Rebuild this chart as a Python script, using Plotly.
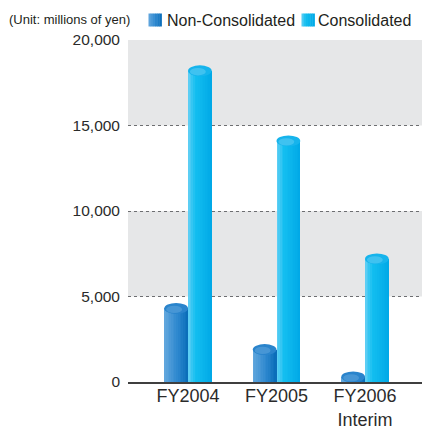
import plotly.graph_objects as go

# ---- data ----
categories = ["FY2004", "FY2005", "FY2006<br>Interim"]
non_consolidated = [4300, 1900, 300]
consolidated = [18200, 14100, 7200]
y_ticks = [0, 5000, 10000, 15000, 20000]
series_names = ["Non-Consolidated", "Consolidated"]

# ---- styling ----
FONT = "Liberation Sans, Arial, sans-serif"
W, H = 422, 427
L, R, T, B = 128, 0, 40, 45
PW, PH = W - L - R, H - T - B
BAR_W = 0.268
N_SLICES = 14
ELL_H = 640  # ellipse height in data units (~11 px)

non_stops = [(0.0, (0x64, 0xa8, 0xde)), (0.55, (0x2e, 0x88, 0xcf)), (1.0, (0x08, 0x6c, 0xb8))]
con_stops = [(0.0, (0x66, 0xd0, 0xf4)), (0.3, (0x14, 0xbf, 0xf0)), (1.0, (0x00, 0xa8, 0xe6))]


def interp(stops, t):
    for (t0, c0), (t1, c1) in zip(stops[:-1], stops[1:]):
        if t0 <= t <= t1:
            f = (t - t0) / (t1 - t0) if t1 > t0 else 0
            c = [round(a + (b - a) * f) for a, b in zip(c0, c1)]
            return "rgb(%d,%d,%d)" % tuple(c)
    c = stops[-1][1]
    return "rgb(%d,%d,%d)" % tuple(c)


xs = list(range(len(categories)))
fig = go.Figure()

shapes = []
# background bands
for lo, hi in [(15000, 20000), (5000, 10000)]:
    shapes.append(dict(type="rect", xref="paper", yref="y", x0=0, x1=1, y0=lo, y1=hi,
                       fillcolor="#e6e7e8", line=dict(width=0), layer="below"))

series = [
    (non_consolidated, -BAR_W, non_stops, "#2a84cc", "#5ea6dd"),
    (consolidated, 0.0, con_stops, "#16b4ec", "#62cdf4"),
]
sw = BAR_W / N_SLICES
for vals, base_off, stops, top_col, top_hi in series:
    for i in range(N_SLICES):
        t = (i + 0.5) / N_SLICES
        wdt = sw * 1.6 if i < N_SLICES - 1 else sw
        fig.add_trace(go.Bar(
            x=xs, y=vals, offset=base_off + i * sw, width=wdt,
            marker=dict(color=interp(stops, t), line=dict(width=0)),
            showlegend=False, hoverinfo="skip"))
    for x, v in zip(xs, vals):
        shapes.append(dict(type="circle", xref="x", yref="y",
                           x0=x + base_off, x1=x + base_off + BAR_W,
                           y0=v - ELL_H / 2, y1=v + ELL_H / 2,
                           fillcolor=top_col, line=dict(width=0), layer="above"))
        shapes.append(dict(type="circle", xref="x", yref="y",
                           x0=x + base_off + BAR_W * 0.08, x1=x + base_off + BAR_W * 0.75,
                           y0=v - ELL_H * 0.42, y1=v + ELL_H * 0.25,
                           fillcolor=top_hi, opacity=0.55, line=dict(width=0), layer="above"))


def px_x(p):
    return (p - L) / PW


def px_y(p):
    return (H - B - p) / PH


# manual legend
legend_items = [
    (148.5, 165, series_names[0], non_stops),
    (301.5, 316, series_names[1], con_stops),
]
annotations = []
for sx, tx, name, stops in legend_items:
    n = 6
    for i in range(n):
        shapes.append(dict(type="rect", xref="paper", yref="paper",
                           x0=px_x(sx + 13 * i / n), x1=px_x(sx + 13 * (i + 1) / n + 0.4),
                           y0=px_y(26.5), y1=px_y(13.5),
                           fillcolor=interp(stops, (i + 0.5) / n), line=dict(width=0)))
    annotations.append(dict(xref="paper", yref="paper", x=px_x(tx), y=px_y(20.5),
                            xanchor="left", yanchor="middle", showarrow=False,
                            text=name, font=dict(family=FONT, size=16, color="#231f20")))

annotations.append(dict(xref="paper", yref="paper", x=px_x(7), y=px_y(19),
                        xanchor="left", yanchor="middle", showarrow=False,
                        text="(Unit: millions of yen)",
                        font=dict(family=FONT, size=13, color="#231f20")))

fig.update_layout(
    width=W, height=H,
    margin=dict(l=L, r=R, t=T, b=B, autoexpand=False),
    paper_bgcolor="white", plot_bgcolor="white",
    barmode="overlay", bargap=0,
    showlegend=False,
    shapes=shapes, annotations=annotations,
    xaxis=dict(range=[-0.678, 2.644], tickvals=xs, ticktext=categories, automargin=False,
               showgrid=False, zeroline=False, showline=True, linecolor="#3f3f3f", linewidth=1.5,
               ticks="", ticklabelstandoff=-3,
               tickfont=dict(family=FONT, size=18, color="#2b2b2b"), fixedrange=True),
    yaxis=dict(range=[0, 20000], tickvals=y_ticks, tickformat=",d", automargin=False,
               showgrid=True, gridcolor="#6d6e71", griddash="dot", gridwidth=1,
               zeroline=False, showline=False, ticks="", ticklabelstandoff=7,
               tickfont=dict(family=FONT, size=15.5, color="#2b2b2b"), fixedrange=True),
)

fig.write_html("out.html", config={"displayModeBar": False},
               post_script="document.body.style.margin='0';document.body.style.overflow='hidden';")
